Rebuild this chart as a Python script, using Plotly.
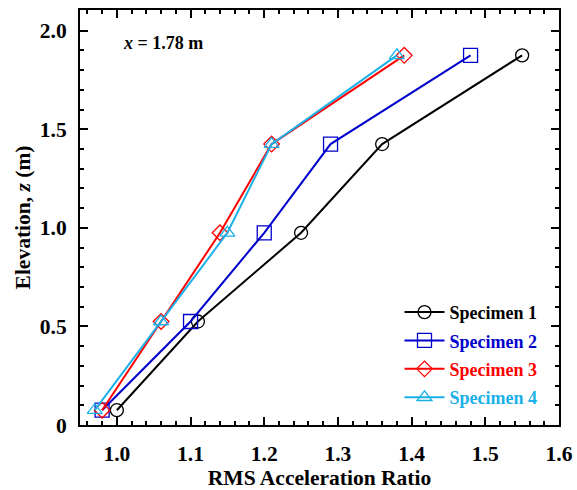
import plotly.graph_objects as go

elevation = [0.075, 0.525, 0.975, 1.425, 1.875]
spec1 = [1.00, 1.11, 1.25, 1.36, 1.55]
spec2 = [0.98, 1.10, 1.20, 1.29, 1.48]
spec3 = [0.98, 1.06, 1.14, 1.21, 1.39]
spec4 = [0.97, 1.06, 1.15, 1.21, 1.38]
names = ["Specimen 1", "Specimen 2", "Specimen 3", "Specimen 4"]
colors = ["#000000", "#0000CC", "#FF0000", "#1AB0E8"]
symbols = ["circle-open", "square-open", "diamond-open", "triangle-up-open"]
sizes = [13, 14, 12, 13]
x_ticks = [1.0, 1.1, 1.2, 1.3, 1.4, 1.5, 1.6]
x_ticklabels = ["1.0", "1.1", "1.2", "1.3", "1.4", "1.5", "1.6"]
y_ticks = [0, 0.5, 1.0, 1.5, 2.0]
y_ticklabels = ["0", "0.5", "1.0", "1.5", "2.0"]

FONT = "Liberation Serif"
FS = 21.5

fig = go.Figure()
for i, (vals, name) in enumerate(zip([spec1, spec2, spec3, spec4], names)):
    fig.add_trace(go.Scatter(
        x=vals, y=elevation, mode="lines+markers",
        name=f"<span style='color:{colors[i]}'><b>{name}</b></span>",
        legendgroup=f"g{i}",
        line=dict(color=colors[i], width=2),
        marker=dict(symbol=symbols[i], size=sizes[i], color=colors[i],
                    line=dict(width=1.3, color=colors[i])),
    ))

axis_common = dict(
    showline=True, linecolor="black", linewidth=2, mirror="ticks",
    ticks="inside", ticklen=8, tickwidth=2, tickcolor="black",
    showgrid=False, zeroline=False, automargin=False,
    tickfont=dict(family=FONT, size=FS, color="black"),
)

fig.update_xaxes(
    range=[0.95, 1.6], tickvals=x_ticks, ticktext=[f"<b>{t}</b>" for t in x_ticklabels],
    minor=dict(dtick=0.02, ticks="inside", ticklen=4, tickwidth=2, tickcolor="black", tick0=0.96),
    ticklabelstandoff=8,
    title=dict(text="<b>RMS Acceleration Ratio</b>", font=dict(family=FONT, size=FS, color="black"), standoff=4),
    **axis_common,
)
fig.update_yaxes(
    range=[0, 2.105], tickvals=y_ticks, ticktext=[f"<b>{t}</b>" for t in y_ticklabels],
    minor=dict(dtick=0.1, ticks="inside", ticklen=4, tickwidth=2, tickcolor="black"),
    ticklabelstandoff=7,
    title=dict(text="<b>Elevation, <i>z</i> (m)</b>", font=dict(family=FONT, size=FS, color="black"), standoff=3),
    **axis_common,
)

fig.add_annotation(
    x=0.085, y=0.95, xref="paper", yref="paper", xanchor="left", yanchor="top",
    text="<b><i>x</i> = 1.78 m</b>", showarrow=False,
    font=dict(family=FONT, size=18, color="black"),
)

fig.update_layout(
    width=577, height=490,
    margin=dict(l=80, r=18, t=10, b=65),
    paper_bgcolor="white", plot_bgcolor="white",
    legend=dict(
        x=0.667, y=0.022, xanchor="left", yanchor="bottom",
        font=dict(family=FONT, size=18, color="black"),
        bgcolor="rgba(0,0,0,0)", tracegroupgap=2, traceorder="grouped",
        itemwidth=40,
    ),
    showlegend=True,
)

fig.write_html("out.html")
